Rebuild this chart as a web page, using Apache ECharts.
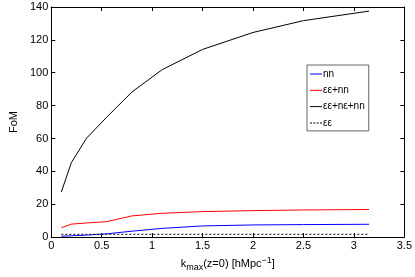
<!DOCTYPE html>
<html><head><meta charset="utf-8">
<script src="https://cdn.jsdelivr.net/npm/echarts@6/dist/echarts.min.js"></script>
<style>html,body{margin:0;padding:0;background:#fff}#c{width:415px;height:277px}</style>
</head><body><div id="c"></div>
<script>
var kValues = [0.1, 0.2, 0.35, 0.55, 0.8, 1.1, 1.5, 2.0, 2.5, 3.15];
var fomNN = [0.5, 0.8, 1.2, 2.0, 3.6, 5.3, 6.8, 7.4, 7.6, 7.8];
var fomEENN = [5.7, 7.9, 8.6, 9.4, 12.9, 14.5, 15.5, 16.1, 16.5, 16.8];
var fomAll = [27.5, 45.4, 60.2, 73, 88.3, 101.9, 114.2, 124.5, 131.7, 137.5];
var fomEE = [1.7, 1.7, 1.7, 1.7, 1.7, 1.7, 1.7, 1.7, 1.7, 1.7];
var xTicks = ['0', '0.5', '1', '1.5', '2', '2.5', '3', '3.5'];
var yTicks = ['0', '20', '40', '60', '80', '100', '120', '140'];
var names = ['nn', 'εε+nn', 'εε+nε+nn', 'εε'];

function pairs(ys) { return kValues.map(function (k, i) { return [k, ys[i]]; }); }
var FONT = 'Liberation Sans';
var SOLID = 'path://M0,0H12V1H0Z';
var DASHED = 'path://M0,0H2V1H0Z M3.3,0H5.3V1H3.3Z M6.7,0H8.7V1H6.7Z M10,0H12V1H10Z';
var axisCommon = {
  axisLine: { show: true, onZero: false, lineStyle: { color: '#000', width: 1 } },
  axisTick: { show: true, inside: true, length: 4, lineStyle: { color: '#000' } },
  splitLine: { show: false }
};
var chart = echarts.init(document.getElementById('c'));
chart.setOption({
  animation: false,
  textStyle: { fontFamily: FONT },
  grid: { left: 33, right: 8, top: 7, bottom: 30 },
  xAxis: [
    Object.assign({ type: 'value', position: 'bottom', min: 0, max: 3.5, interval: 0.5,
      axisLabel: { color: '#000', fontSize: 11, fontFamily: FONT, margin: 3,
        formatter: function (v) { return xTicks[Math.round(v / 0.5)]; } },
      name: '{n|k}{s|max}{n|(z=0) [hMpc}{p|−1}{n|]}', nameLocation: 'middle', nameGap: 14,
      nameTextStyle: { rich: {
        n: { fontSize: 11, color: '#000', fontFamily: FONT },
        s: { fontSize: 9, color: '#000', fontFamily: FONT, verticalAlign: 'bottom', padding: [7, 0, 0, 0] },
        p: { fontSize: 9, color: '#000', fontFamily: FONT, verticalAlign: 'top', padding: [0, 0, 7, 0] } } }
    }, axisCommon),
    Object.assign({ type: 'value', position: 'top', min: 0, max: 3.5, interval: 0.5,
      axisLabel: { show: false } }, axisCommon)
  ],
  yAxis: [
    Object.assign({ type: 'value', position: 'left', min: 0, max: 140, interval: 20,
      axisLabel: { color: '#000', fontSize: 11, fontFamily: FONT, margin: 3,
        formatter: function (v) { return yTicks[Math.round(v / 20)]; } },
      name: 'FoM', nameLocation: 'middle', nameGap: 20,
      nameTextStyle: { fontSize: 11, color: '#000', fontFamily: FONT }
    }, axisCommon),
    Object.assign({ type: 'value', position: 'right', min: 0, max: 140, interval: 20,
      axisLabel: { show: false } }, axisCommon)
  ],
  legend: {
    orient: 'vertical', left: 307, top: 65, width: 62,
    padding: [3, 4, 2, 3], itemGap: 4.3, itemWidth: 12, itemHeight: 1.2,
    borderColor: '#666', borderWidth: 1, backgroundColor: '#fff',
    textStyle: { fontSize: 10, color: '#000', fontFamily: FONT, padding: [0, 0, 0, -4], lineHeight: 12 },
    data: [
      { name: names[0], icon: SOLID, itemStyle: { color: '#0000ff' } },
      { name: names[1], icon: SOLID, itemStyle: { color: '#ff0000' } },
      { name: names[2], icon: SOLID, itemStyle: { color: '#000000' } },
      { name: names[3], icon: DASHED, itemStyle: { color: '#000000' } }
    ]
  },
  series: [
    { name: names[0], type: 'line', data: pairs(fomNN), symbol: 'none', lineStyle: { color: '#0000ff', width: 1 }, itemStyle: { color: '#0000ff' } },
    { name: names[1], type: 'line', data: pairs(fomEENN), symbol: 'none', lineStyle: { color: '#ff0000', width: 1 }, itemStyle: { color: '#ff0000' } },
    { name: names[2], type: 'line', data: pairs(fomAll), symbol: 'none', lineStyle: { color: '#000000', width: 1 }, itemStyle: { color: '#000000' } },
    { name: names[3], type: 'line', data: pairs(fomEE), symbol: 'none', lineStyle: { color: '#000000', width: 1, type: [2, 2] }, itemStyle: { color: '#000000' } }
  ]
});
</script></body></html>
